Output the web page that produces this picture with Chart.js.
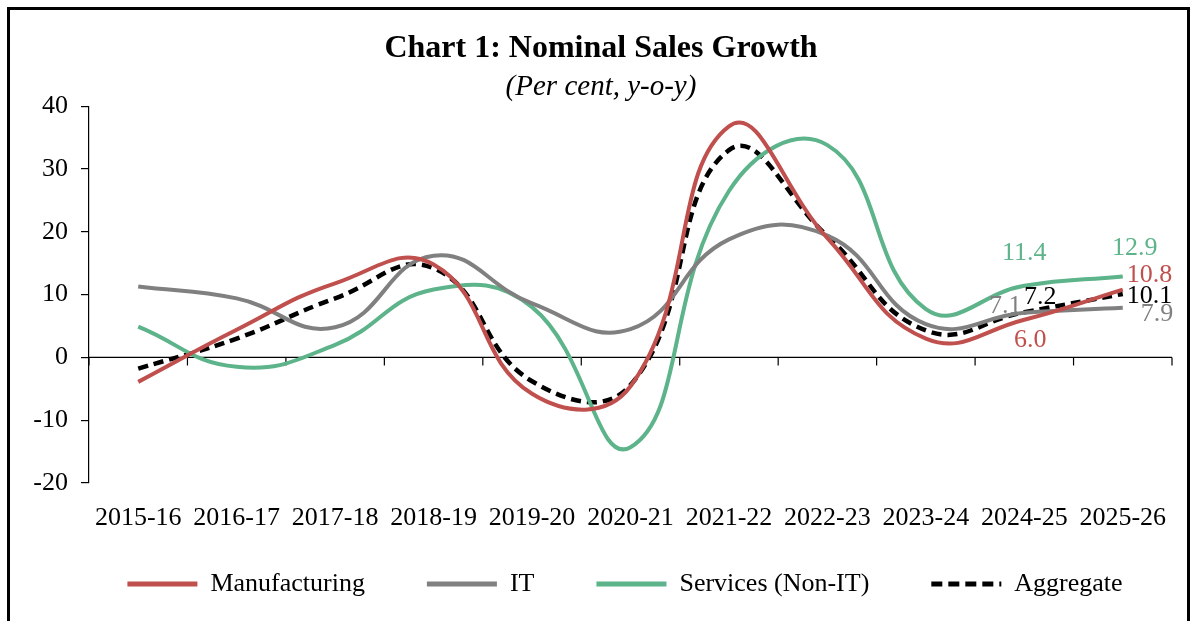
<!DOCTYPE html>
<html>
<head>
<meta charset="utf-8">
<script src="https://cdn.jsdelivr.net/npm/chart.js@4.4.1/dist/chart.umd.min.js"></script>
<style>
  html, body { margin:0; padding:0; background:#fff; overflow:hidden; }
  #wrap { position:relative; width:1192px; height:621px; }
  #frame { position:absolute; left:7px; top:7px; width:1183px; height:720px; box-sizing:border-box; border:3px solid #000; }
  #c { position:absolute; left:0; top:0; }
</style>
</head>
<body>
<div id="wrap">
  <div id="frame"></div>
  <canvas id="c" width="1192" height="621"></canvas>
</div>
<script>
const categories = ['2015-16','2016-17','2017-18','2018-19','2019-20','2020-21','2021-22','2022-23','2023-24','2024-25','2025-26'];
const manufacturing = [-3.9, 4.4, 11.8, 14.8, -5.8, -4.6, 36.8, 19.0, 3.0, 6.0, 10.8];
const it            = [11.3, 9.4, 4.8, 16.2, 8.6, 4.5, 18.8, 19.4, 5.3, 7.1, 7.9];
const services      = [4.9, -1.5, 2.0, 10.8, 8.0, -14.3, 26.5, 33.8, 7.7, 11.4, 12.9];
const aggregate     = [-1.8, 3.0, 9.4, 14.2, -3.8, -4.4, 33.0, 19.3, 4.3, 7.2, 10.1];
const yTicks = [-20, -10, 0, 10, 20, 30, 40];

const SERIF = '"Liberation Serif", "Times New Roman", serif';
const RED = '#C0504D', GRAY = '#808080', GREEN = '#5DB38A', BLACK = '#000000';

// which points get a value label, and where (offsets in px from the point)
const labelSpots = [
  { ds: 0, i: 9,  dx: 6,   dy: 20,  align: 'center', color: RED },
  { ds: 0, i: 10, dx: 4,   dy: -14, align: 'left',   color: RED },
  { ds: 1, i: 9,  dx: -19, dy: -7,  align: 'center', color: GRAY },
  { ds: 1, i: 10, dx: 18,  dy: 6,   align: 'left',   color: GRAY },
  { ds: 2, i: 9,  dx: 0,   dy: -33, align: 'center', color: GREEN },
  { ds: 2, i: 10, dx: 12,  dy: -28, align: 'center', color: GREEN },
  { ds: 3, i: 9,  dx: 16,  dy: -15, align: 'center', color: BLACK },
  { ds: 3, i: 10, dx: 4,   dy: 2,   align: 'left',   color: BLACK }
];

const LEGEND_PAD = 62, LEGEND_FONT = 26, LEGEND_CENTER_Y = 584, LEGEND_SHIFT_X = 24;

const legendShiftPlugin = {
  id: 'legendShift',
  afterLayout(chart) {
    const lg = chart.legend;
    if (!lg) return;
    const dy = LEGEND_CENTER_Y - (lg.top + LEGEND_PAD + LEGEND_FONT / 2);
    lg.top += dy; lg.bottom += dy;
    lg.left += LEGEND_SHIFT_X; lg.right += LEGEND_SHIFT_X;
  }
};

const zeroAxisPlugin = {
  id: 'zeroAxis',
  beforeDatasetsDraw(chart) {
    const { ctx, chartArea, scales } = chart;
    const y0 = scales.y.getPixelForValue(0);
    const xs = scales.x;
    ctx.save();
    ctx.strokeStyle = '#000';
    ctx.lineWidth = 1.2;
    ctx.beginPath();
    ctx.moveTo(chartArea.left, y0);
    ctx.lineTo(chartArea.right, y0);
    const n = categories.length;
    for (let k = 0; k <= n; k++) {
      let x;
      if (k === 0) x = chartArea.left;
      else if (k === n) x = chartArea.right;
      else x = (xs.getPixelForValue(k - 1) + xs.getPixelForValue(k)) / 2;
      ctx.moveTo(x, y0);
      ctx.lineTo(x, y0 + 8);
    }
    ctx.stroke();
    ctx.restore();
  }
};

const valueLabelPlugin = {
  id: 'valueLabels',
  afterDatasetsDraw(chart) {
    const { ctx } = chart;
    ctx.save();
    ctx.font = '26px ' + SERIF;
    ctx.textBaseline = 'middle';
    labelSpots.forEach(s => {
      const meta = chart.getDatasetMeta(s.ds);
      const pt = meta.data[s.i];
      const v = chart.data.datasets[s.ds].data[s.i];
      ctx.fillStyle = s.color;
      ctx.textAlign = s.align;
      ctx.fillText(v.toFixed(1), pt.x + s.dx, pt.y + s.dy);
    });
    ctx.restore();
  }
};

new Chart(document.getElementById('c'), {
  type: 'line',
  data: {
    labels: categories,
    datasets: [
      { label: 'Manufacturing', data: manufacturing, borderColor: RED, backgroundColor: RED, borderWidth: 4 },
      { label: 'IT', data: it, borderColor: GRAY, backgroundColor: GRAY, borderWidth: 4 },
      { label: 'Services (Non-IT)', data: services, borderColor: GREEN, backgroundColor: GREEN, borderWidth: 4 },
      { label: 'Aggregate', data: aggregate, borderColor: BLACK, backgroundColor: BLACK, borderWidth: 4.5, borderDash: [10, 6] }
    ]
  },
  options: {
    responsive: false,
    animation: false,
    devicePixelRatio: 1,
    layout: { padding: { left: 30, right: 20, top: 0, bottom: 0 } },
    elements: {
      point: { radius: 0, hoverRadius: 0 },
      line: { tension: 0.45, fill: false, capBezierPoints: false }
    },
    scales: {
      x: {
        offset: true,
        grid: { display: false, drawTicks: false },
        border: { display: false },
        ticks: { color: '#000', font: { family: SERIF, size: 26 }, padding: 20, maxRotation: 0, autoSkip: false },
        afterFit(scale) { scale.height = 49; }
      },
      y: {
        min: -20, max: 40,
        afterBuildTicks(scale) { scale.ticks = yTicks.map(v => ({ value: v })); },
        grid: { display: true, drawOnChartArea: false, drawTicks: true, tickLength: 8, color: '#000', lineWidth: 1.2 },
        border: { display: true, color: '#000', width: 1.2 },
        ticks: { color: '#000', font: { family: SERIF, size: 26 }, padding: 13 },
        afterFit(scale) { scale.width = 59; }
      }
    },
    plugins: {
      title: {
        display: true, text: 'Chart 1: Nominal Sales Growth', color: '#000',
        font: { family: SERIF, size: 32, weight: 'bold' },
        padding: { top: 30, bottom: 0 }
      },
      subtitle: {
        display: true, text: '(Per cent, y-o-y)', color: '#000',
        font: { family: SERIF, size: 29, style: 'italic' },
        padding: { top: 2, bottom: 1 }
      },
      legend: {
        position: 'bottom',
        fullSize: true,
        maxHeight: 89,
        labels: {
          color: '#000',
          font: { family: SERIF, size: LEGEND_FONT },
          usePointStyle: true,
          pointStyle: 'line',
          pointStyleWidth: 70,
          boxHeight: 26,
          padding: LEGEND_PAD,
          generateLabels(chart) {
            const items = Chart.defaults.plugins.legend.labels.generateLabels(chart);
            items.forEach((it, i) => {
              const ds = chart.data.datasets[i];
              it.lineWidth = 5;
              it.strokeStyle = ds.borderColor;
              it.lineDash = ds.borderDash ? [11, 6] : [];
              it.pointStyle = 'line';
            });
            return items;
          }
        }
      },
      tooltip: { enabled: false }
    }
  },
  plugins: [legendShiftPlugin, zeroAxisPlugin, valueLabelPlugin]
});
</script>
</body>
</html>
